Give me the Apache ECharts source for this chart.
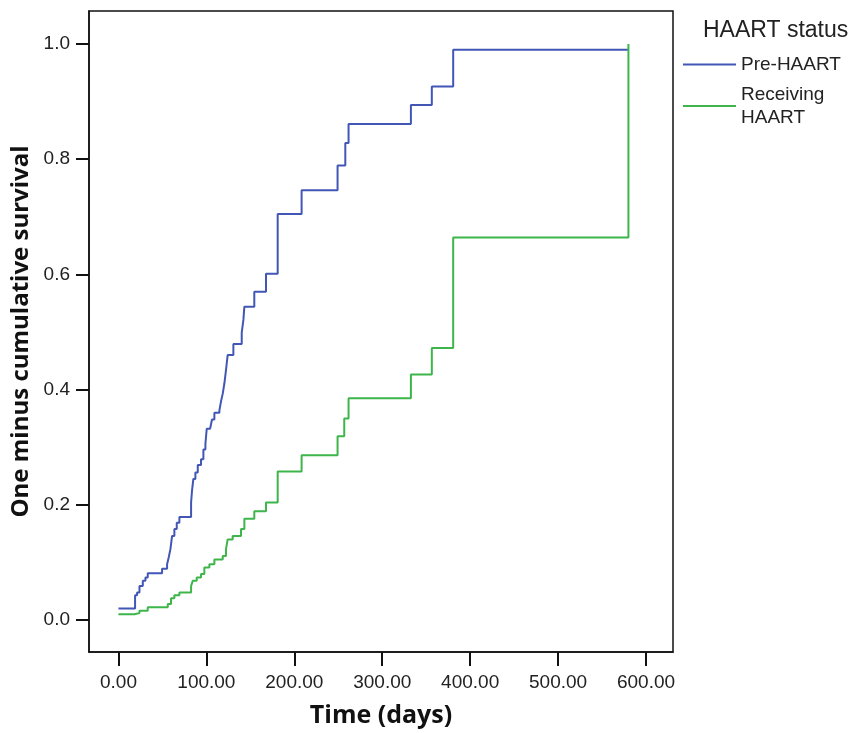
<!DOCTYPE html>
<html>
<head>
<meta charset="utf-8">
<script src="https://cdn.jsdelivr.net/npm/echarts@6/dist/echarts.min.js"></script>
<style>
  html, body { margin: 0; padding: 0; background: #fff; }
  #chart { width: 860px; height: 733px; }
</style>
</head>
<body>
<div id="chart"></div>
<script>
// time (days) where the curve steps, and value after the step
const preTimes = [0, 18.9, 21.2, 23.9, 27.7, 30.7, 33.3, 49.6, 55.3, 57.2, 59.1, 61.0, 63.6, 66.3, 69.3,
  82.6, 83.7, 85.2, 87.5, 90.2, 93.9, 96.6, 98.9, 100.4, 104.2, 106.4, 109.1, 114.8, 116.7, 118.6,
  120.5, 122.3, 124.2, 130.7, 140.2, 142.1, 143.2, 154.5, 167.8, 181.1, 208.3, 249.2, 258.0, 261.7,
  332.6, 356.4, 380.7, 580];
const preValues = [0.020, 0.043, 0.048, 0.059, 0.068, 0.074, 0.081, 0.089, 0.097, 0.109, 0.123, 0.146, 0.158, 0.169, 0.179,
  0.204, 0.225, 0.245, 0.256, 0.269, 0.279, 0.296, 0.306, 0.332, 0.335, 0.348, 0.360, 0.364, 0.380, 0.393,
  0.411, 0.434, 0.460, 0.479, 0.499, 0.521, 0.544, 0.570, 0.601, 0.705, 0.746, 0.789, 0.828, 0.861,
  0.894, 0.926, 0.990, 0.990];

const recTimes = [0, 18.2, 23.9, 33.3, 56.1, 59.8, 63.6, 69.3, 82.6, 84.5, 89.0, 93.9, 97.7, 103.4, 109.1,
  118.6, 122.3, 124.2, 129.9, 139.4, 143.2, 154.5, 167.8, 181.1, 208.3, 249.2, 256.8, 261.7,
  332.6, 356.4, 380.7, 580];
const recValues = [0.010, 0.012, 0.016, 0.022, 0.028, 0.038, 0.043, 0.048, 0.059, 0.068, 0.074, 0.080, 0.091, 0.097, 0.105,
  0.111, 0.123, 0.140, 0.146, 0.158, 0.176, 0.189, 0.204, 0.258, 0.286, 0.319, 0.350, 0.385,
  0.426, 0.472, 0.664, 1.000];

const xTicks = [0, 100, 200, 300, 400, 500, 600];
const yTicks = [0, 0.2, 0.4, 0.6, 0.8, 1.0];

const zip = (a, b) => a.map((t, i) => [t, b[i]]);

const labelFont = "'Liberation Sans', Arial, sans-serif";
const nameFont = "'Open Sans', 'DejaVu Sans', sans-serif";

const chart = echarts.init(document.getElementById("chart"));

chart.setOption({
  animation: false,
  backgroundColor: "#fff",
  title: {
    text: "HAART status",
    left: 698,
    top: 14,
    textStyle: { fontFamily: labelFont, fontSize: 23, fontWeight: "normal", color: "#222" },
  },
  legend: {
    orient: "vertical",
    left: 678,
    top: 48,
    icon: "rect",
    itemWidth: 53,
    itemHeight: 2,
    itemGap: 7,
    selectedMode: false,
    textStyle: { fontFamily: labelFont, fontSize: 19, lineHeight: 23, color: "#222" },
    data: ["Pre-HAART", "Receiving\nHAART"],
  },
  grid: {
    left: 89,
    right: 187,
    top: 11,
    bottom: 80,
    show: true,
    borderColor: "#111",
    borderWidth: 1.5,
  },
  xAxis: {
    type: "value",
    min: -33.5,
    max: 630.7,
    name: "Time (days)",
    nameLocation: "middle",
    nameGap: 51,
    nameTextStyle: { fontFamily: nameFont, fontSize: 25, fontWeight: "bold", color: "#111" },
    axisLine: { show: true, onZero: false, lineStyle: { color: "#111", width: 1.5 } },
    axisTick: { show: true, length: 14, customValues: xTicks, lineStyle: { color: "#111", width: 2 } },
    axisLabel: {
      customValues: xTicks,
      margin: 21,
      fontFamily: labelFont,
      fontSize: 19,
      color: "#222",
      formatter: (v) => v.toFixed(2),
    },
    splitLine: { show: false },
  },
  yAxis: {
    type: "value",
    min: -0.0555,
    max: 1.0572,
    name: "One minus cumulative survival",
    nameLocation: "middle",
    nameGap: 55,
    nameTextStyle: { fontFamily: nameFont, fontSize: 24, fontWeight: "bold", color: "#111" },
    axisLine: { show: true, onZero: false, lineStyle: { color: "#111", width: 1.5 } },
    axisTick: { show: true, length: 13, customValues: yTicks, lineStyle: { color: "#111", width: 2 } },
    axisLabel: {
      customValues: yTicks,
      margin: 19,
      fontFamily: labelFont,
      fontSize: 19,
      color: "#222",
      formatter: (v) => v.toFixed(1),
    },
    splitLine: { show: false },
  },
  series: [
    {
      name: "Pre-HAART",
      type: "line",
      step: "end",
      showSymbol: false,
      symbol: "none",
      lineStyle: { color: "#4257b5", width: 2 },
      itemStyle: { color: "#4257b5" },
      data: zip(preTimes, preValues),
    },
    {
      name: "Receiving\nHAART",
      type: "line",
      step: "end",
      showSymbol: false,
      symbol: "none",
      lineStyle: { color: "#3db54a", width: 2 },
      itemStyle: { color: "#3db54a" },
      data: zip(recTimes, recValues),
    },
  ],
});
</script>
</body>
</html>
